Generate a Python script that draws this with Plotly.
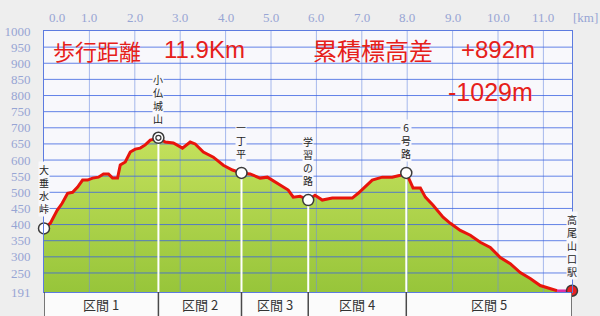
import plotly.graph_objects as go

# ---------------- data ----------------
dist_km = [0.00, 0.14, 0.29, 0.40, 0.52, 0.63, 0.74, 0.85, 0.96, 1.07, 1.20, 1.31, 1.42, 1.51, 1.62,
           1.68, 1.79, 1.90, 2.01, 2.12, 2.23, 2.34, 2.45, 2.52, 2.67, 2.85, 3.05, 3.22, 3.33, 3.51,
           3.73, 3.95, 4.15, 4.35, 4.54, 4.76, 4.92, 5.14, 5.38, 5.49, 5.64, 5.82, 5.97, 6.13, 6.35,
           6.57, 6.79, 6.92, 7.07, 7.23, 7.45, 7.67, 7.85, 7.98, 8.13, 8.29, 8.40, 8.57, 8.79, 8.95,
           9.17, 9.39, 9.61, 9.83, 10.05, 10.27, 10.49, 10.71, 10.93, 11.15, 11.30, 11.46, 11.63]
elev_m = [388, 404, 444, 466, 497, 500, 516, 538, 538, 544, 547, 557, 557, 544, 544,
          585, 594, 625, 634, 637, 647, 662, 665, 669, 656, 653, 637, 656, 650, 625,
          609, 584, 569, 560, 557, 544, 547, 528, 507, 485, 488, 476, 491, 476, 482,
          482, 482, 497, 516, 538, 547, 547, 553, 560, 513, 513, 485, 460, 423, 404,
          382, 367, 345, 329, 298, 279, 251, 233, 211, 202, 195, 195, 195]
last_leg_start_km = 11.30

wp_names = ["大垂水峠", "小仏城山", "一丁平", "学習の路", "6号路", "高尾山口駅"]
wp_km = [0.00, 2.52, 4.35, 5.82, 7.98, 11.63]
wp_elev = [388, 669, 560, 476, 560, 195]

section_labels = ["区間 1", "区間 2", "区間 3", "区間 4", "区間 5"]

y_ticks = [191, 250, 300, 350, 400, 450, 500, 550, 600, 650, 700, 750, 800, 850, 900, 950, 1000]
x_ticks = [0, 1, 2, 3, 4, 5, 6, 7, 8, 9, 10, 11]
x_ticktext = ["0.0", "1.0", "2.0", "3.0", "4.0", "5.0", "6.0", "7.0", "8.0", "9.0", "10.0", "11.0"]
x_unit = "[km]"

# text, kind, left px, centre px, font size
headline_parts = [("歩行距離", "cjk", 51, 50, 22), ("11.9Km", "num", 162, 50, 24),
                  ("累積標高差", "cjk", 311, 50, 24), ("+892m", "num", 459, 50, 24),
                  ("-1029m", "num", 446, 92, 25)]

# ---------------- geometry / style ----------------
W, H = 600, 316
ML, MR, MT, MB = 44, 28, 31, 24
PW, PH = W - ML - MR, H - MT - MB
X_MAX = dist_km[-1]
Y_MIN, Y_MAX = y_ticks[0], y_ticks[-1]

def pxf(xp):
    return (xp - ML) / PW

def pyf(yp):
    return (H - MB - yp) / PH

RED = "#E6201A"
TICKCOL = "#97A5D4"
PLOTBG = "#F8F8FC"
CJK = "Noto Sans CJK JP"
NUMFONT = "Liberation Sans, Arial, sans-serif"

fig = go.Figure()

# filled terrain
fig.add_trace(go.Scatter(
    x=dist_km, y=elev_m, mode="lines", line=dict(width=0, color="rgba(0,0,0,0)"),
    fill="tozeroy",
    fillgradient=dict(type="vertical", colorscale=[[0, "#97C53A"], [1, "#C6E25E"]],
                      start=Y_MIN, stop=690),
    hoverinfo="skip", showlegend=False))

# grid lines drawn over the fill
vx, vy = [], []
for v in x_ticks[1:]:
    vx += [v, v, None]
    vy += [Y_MIN, Y_MAX, None]
fig.add_trace(go.Scatter(x=vx, y=vy, mode="lines",
                         line=dict(color="rgba(110,140,225,0.6)", width=1),
                         hoverinfo="skip", showlegend=False))
hx, hy = [], []
for v in y_ticks[1:-1]:
    hx += [0, X_MAX, None]
    hy += [v, v, None]
fig.add_trace(go.Scatter(x=hx, y=hy, mode="lines",
                         line=dict(color="rgba(60,100,225,0.8)", width=1),
                         hoverinfo="skip", showlegend=False))

# white drop lines under waypoints
dx, dy = [], []
for k, e in zip(wp_km[1:-1], wp_elev[1:-1]):
    dx += [k, k, None]
    dy += [e, Y_MIN, None]
fig.add_trace(go.Scatter(x=dx, y=dy, mode="lines", line=dict(color="white", width=2),
                         hoverinfo="skip", showlegend=False))

# profile line
main_x = [d for d in dist_km if d <= last_leg_start_km]
main_y = elev_m[:len(main_x)]
fig.add_trace(go.Scatter(x=main_x, y=main_y, mode="lines",
                         line=dict(color="#E8140C", width=3), showlegend=False))
tail_x = dist_km[len(main_x) - 1:]
tail_y = elev_m[len(main_x) - 1:]
fig.add_trace(go.Scatter(x=tail_x, y=tail_y, mode="lines",
                         line=dict(color="#E02AA8", width=2.5), showlegend=False))

# waypoint markers
mcolors = ["white"] * (len(wp_km) - 1) + ["#E82222"]
fig.add_trace(go.Scatter(x=wp_km, y=wp_elev, mode="markers", cliponaxis=False,
                         marker=dict(size=11, color=mcolors, line=dict(color="#3A3A3A", width=1.5)),
                         showlegend=False))
ipk = wp_elev.index(max(wp_elev))
fig.add_trace(go.Scatter(x=[wp_km[ipk]], y=[wp_elev[ipk]], mode="markers", cliponaxis=False,
                         marker=dict(size=5, color="white", line=dict(color="#3A3A3A", width=1.3)),
                         showlegend=False))

annotations = []
# vertical waypoint labels (one character per line)
for name, k, e in zip(wp_names, wp_km, wp_elev):
    annotations.append(dict(
        x=k, y=e, xref="x", yref="y", text="<br>".join(name), showarrow=False,
        xanchor="center", yanchor="bottom", yshift=11,
        font=dict(family=CJK, size=10, color="#222222"),
        bgcolor=PLOTBG, borderpad=0))

# top distance labels
for v, t in zip(x_ticks, x_ticktext):
    annotations.append(dict(
        x=v, y=1, xref="x", yref="paper", text=t, showarrow=False,
        xanchor="center", yanchor="middle", yshift=14, xshift=13 if v == 0 else 0,
        font=dict(family="Liberation Serif", size=13, color=TICKCOL)))
annotations.append(dict(x=1, y=1, xref="paper", yref="paper", text=x_unit, showarrow=False,
                        xanchor="center", yanchor="middle", yshift=14, xshift=13,
                        font=dict(family="Liberation Serif", size=13, color=TICKCOL)))

# headline texts
for txt, kind, xl, yc, fs in headline_parts:
    annotations.append(dict(
        x=pxf(xl), y=pyf(yc), xref="paper", yref="paper", text=txt, showarrow=False,
        xanchor="left", yanchor="middle",
        font=dict(family=CJK if kind == "cjk" else NUMFONT, size=fs, color=RED)))

# section band
shapes = [dict(type="rect", xref="x", yref="paper", x0=0, x1=X_MAX, y0=pyf(H), y1=pyf(293),
               fillcolor="#FBFBFB", line=dict(width=0), layer="above")]
for k in wp_km:
    shapes.append(dict(type="line", xref="x", yref="paper", x0=k, x1=k, y0=pyf(H), y1=pyf(292),
                       line=dict(color="#4A4A4A", width=1.5), layer="above"))
for i, lab in enumerate(section_labels):
    annotations.append(dict(
        x=(wp_km[i] + wp_km[i + 1]) / 2, y=pyf(304), xref="x", yref="paper", text=lab,
        showarrow=False, xanchor="center", yanchor="middle",
        font=dict(family=CJK, size=13, color="#333333")))

fig.update_layout(
    width=W, height=H, margin=dict(l=ML, r=MR, t=MT, b=MB, pad=0, autoexpand=False),
    paper_bgcolor="#EEEEEE", plot_bgcolor=PLOTBG,
    xaxis=dict(range=[0, X_MAX], showgrid=False, zeroline=False, showticklabels=False,
               showline=True, mirror=True, linecolor="#5C7BE0", linewidth=1, fixedrange=True,
               automargin=False),
    yaxis=dict(range=[Y_MIN, Y_MAX], tickvals=y_ticks, ticktext=[str(v) for v in y_ticks],
               showgrid=False, zeroline=False, showline=True, mirror=True,
               linecolor="#5C7BE0", linewidth=1, ticks="outside", ticklen=10,
               tickcolor="rgba(0,0,0,0)", automargin=False,
               tickfont=dict(family="Liberation Serif", size=13, color=TICKCOL), fixedrange=True),
    annotations=annotations, shapes=shapes, showlegend=False,
)

fig.write_html("out.html")
